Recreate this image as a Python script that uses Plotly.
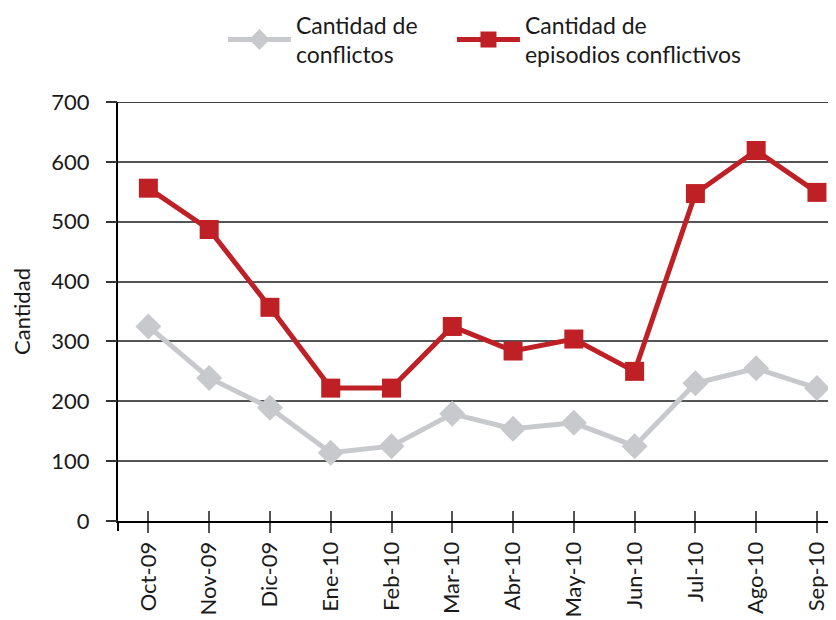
import plotly.graph_objects as go

months = ["Oct-09", "Nov-09", "Dic-09", "Ene-10", "Feb-10", "Mar-10",
          "Abr-10", "May-10", "Jun-10", "Jul-10", "Ago-10", "Sep-10"]
conflictos = [325, 239, 189, 114, 125, 179, 154, 164, 125, 230, 255, 222]
episodios = [556, 487, 357, 222, 222, 325, 284, 304, 250, 547, 619, 549]
yticks = [0, 100, 200, 300, 400, 500, 600, 700]

FONT = "Lato"
fig = go.Figure()
fig.add_trace(go.Scatter(
    x=months, y=conflictos, mode="lines+markers",
    name="Cantidad de<br>conflictos", legend="legend",
    line=dict(color="#C8C9CC", width=5),
    marker=dict(symbol="diamond", size=20, color="#C8C9CC"),
))
fig.add_trace(go.Scatter(
    x=months, y=episodios, mode="lines+markers",
    name="Cantidad de<br>episodios conflictivos", legend="legend2",
    line=dict(color="#BE2026", width=5),
    marker=dict(symbol="square", size=19, color="#BE2026"),
))
# overlay axes to draw visible tick marks (crossing x ticks, short y ticks)
fig.add_trace(go.Scatter(x=months, y=[None]*len(months), xaxis="x2", yaxis="y2",
                         showlegend=False, hoverinfo="skip"))

leg_common = dict(orientation="h", y=1.236, xanchor="left", yanchor="top",
                  font=dict(size=23), itemwidth=63, bgcolor="rgba(0,0,0,0)")

fig.update_layout(
    width=836, height=620,
    margin=dict(l=110, r=0, t=94, b=107, autoexpand=False),
    paper_bgcolor="white", plot_bgcolor="white",
    font=dict(family=FONT, size=22, color="#1a1a1a"),
    showlegend=True,
    legend=dict(x=0.1445, **leg_common),
    legend2=dict(x=0.46, **leg_common),
    xaxis=dict(
        range=[-0.5, 11.445], showgrid=False, showline=True, linecolor="black",
        linewidth=2, ticks="outside", ticklen=10, tickwidth=1.5, tickcolor="#555",
        tickangle=-90, tickfont=dict(size=22), automargin=False, zeroline=False,
    ),
    xaxis2=dict(
        overlaying="x", matches="x", showgrid=False, showline=False,
        ticks="inside", ticklen=10, tickwidth=1.5, tickcolor="#555",
        showticklabels=False, side="bottom", anchor="y2",
    ),
    yaxis=dict(
        range=[0, 700], tickvals=yticks, showgrid=True, gridcolor="#555",
        gridwidth=1.5, showline=True, linecolor="black", linewidth=2,
        ticks="outside", ticklen=22, tickwidth=1.5, tickcolor="rgba(0,0,0,0)",
        tickfont=dict(size=22), zeroline=False, automargin=False,
        title=dict(text="Cantidad", font=dict(size=22), standoff=17),
    ),
    yaxis2=dict(
        overlaying="y", matches="y", tickvals=yticks, showgrid=False,
        showline=False, ticks="outside", ticklen=11, tickwidth=1.5,
        tickcolor="#333", showticklabels=False, side="left", anchor="x2",
        zeroline=False,
    ),
)
# extension of y axis line below the x axis
fig.add_shape(type="line", xref="paper", yref="paper", x0=0, x1=0,
              y0=0, y1=-0.024, line=dict(color="black", width=2))
fig.add_shape(type="line", xref="paper", yref="y", x0=0, x1=1,
              y0=700, y1=700, line=dict(color="black", width=1.5))

fig.write_html("out.html")
